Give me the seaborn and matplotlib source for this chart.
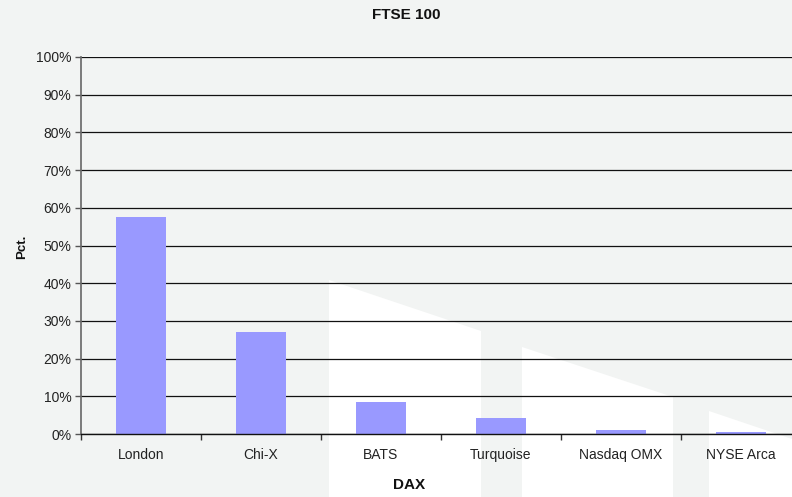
import matplotlib
matplotlib.use("Agg")
import matplotlib.pyplot as plt
from matplotlib.patches import Polygon
from matplotlib.ticker import FuncFormatter, MultipleLocator, FixedLocator
import seaborn as sns
import pandas as pd

venues = ["London", "Chi-X", "BATS", "Turquoise", "Nasdaq OMX", "NYSE Arca"]
shares = [57.6, 27.1, 8.5, 4.2, 1.1, 0.6]
title = "FTSE 100"
xlabel = "DAX"
ylabel = "Pct."

sns.set_theme(style="white")
plt.rcParams["font.family"] = ["Liberation Sans", "DejaVu Sans"]

bg = "#f2f4f3"
fig = plt.figure(figsize=(7.92, 4.97), dpi=100, facecolor=bg)

W, H = 792.0, 497.0
def fp(pts):
    return [(x / W, 1 - y / H) for x, y in pts]

shapes = [
    [(329, 497), (329, 280), (481, 331), (481, 497)],
    [(522, 497), (522, 347), (673, 397), (673, 497)],
    [(709, 497), (709, 411), (792, 439), (792, 497)],
]
for s in shapes:
    fig.patches.append(Polygon(fp(s), closed=True, transform=fig.transFigure,
                               facecolor="white", edgecolor="none", zorder=-5))

ax = fig.add_axes([81 / W, 1 - 434 / H, 720 / W, 377 / H])
ax.set_zorder(2)
ax.set_facecolor("none")
ax.patch.set_alpha(0)

df = pd.DataFrame({"venue": venues, "share": shares})
sns.barplot(data=df, x="venue", y="share", color="#9999ff", saturation=1,
            width=0.41, ax=ax, zorder=3, linewidth=0, edgecolor="none")

ax.set_ylim(0, 100)
ax.set_xlim(-0.5, len(venues) - 0.5)
ax.yaxis.set_major_locator(MultipleLocator(10))
ax.yaxis.set_major_formatter(FuncFormatter(lambda v, p: f"{int(round(v))}%"))
ax.yaxis.grid(True, color="#111111", linewidth=0.9, zorder=1)
ax.set_axisbelow(True)

ax.xaxis.set_minor_locator(FixedLocator([i - 0.5 for i in range(len(venues) + 1)]))
ax.tick_params(axis="x", which="major", length=0, pad=10, labelsize=10, colors="#222222")
ax.tick_params(axis="x", which="minor", length=4, width=1, color="#333333", direction="out", bottom=True)
ax.tick_params(axis="y", which="major", length=4, width=1, color="#555555", direction="out",
               left=True, pad=3, labelsize=10, labelcolor="#222222")

for sp in ["top", "right"]:
    ax.spines[sp].set_visible(False)
ax.spines["left"].set_color("#666666")
ax.spines["left"].set_linewidth(1.2)
ax.spines["bottom"].set_color("#111111")
ax.spines["bottom"].set_linewidth(1.0)
ax.spines["bottom"].set_zorder(4)

ax.set_xlabel(xlabel, fontsize=11, fontweight="bold", color="#111111")
ax.xaxis.set_label_coords((409 - 81) / 720, (434 - 485) / 377)
ax.xaxis.label.set_va("center")
ax.set_ylabel(ylabel, fontsize=9.5, fontweight="bold", color="#111111")
ax.yaxis.set_label_coords((22 - 81) / 720, (434 - 247) / 377)
ax.yaxis.label.set_va("center")

ax.text((406 - 81) / 720, (434 - 15) / 377, title, transform=ax.transAxes,
        ha="center", va="center", fontsize=11, fontweight="bold", color="#111111")

fig.savefig("out.png", dpi=100, facecolor=bg)
